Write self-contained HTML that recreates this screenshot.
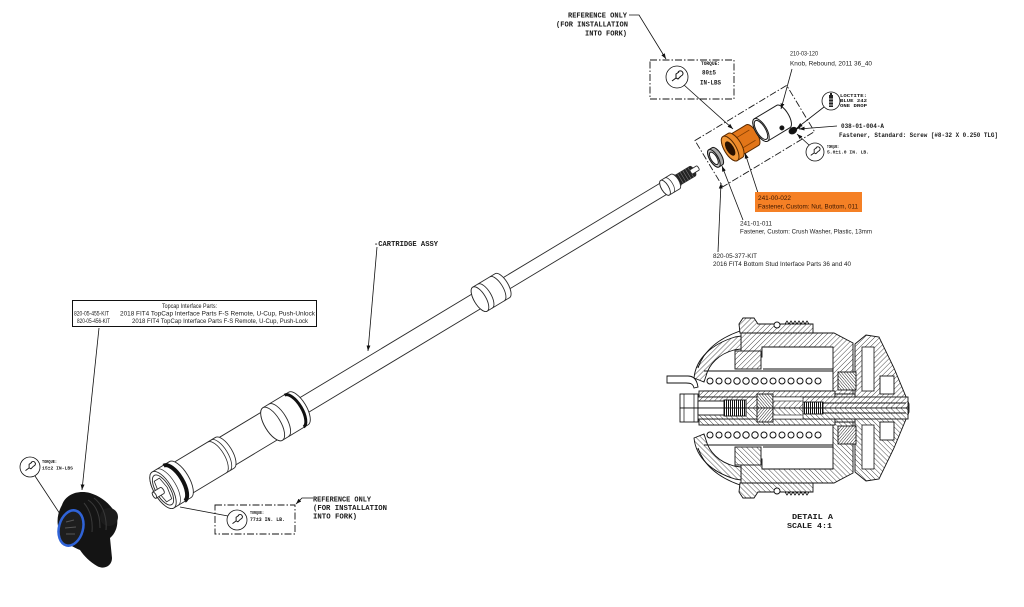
<!DOCTYPE html>
<html><head><meta charset="utf-8"><style>
html,body{margin:0;padding:0;background:#fff;}
svg{display:block;}
.cad{font-family:"Liberation Mono",monospace;font-weight:bold;fill:#1a1a1a;}
.lbl{font-family:"Liberation Sans",sans-serif;fill:#1a1a1a;}
</style></head><body>
<svg width="1024" height="607" viewBox="0 0 1024 607" xmlns="http://www.w3.org/2000/svg">
<defs>
<pattern id="h" width="3.6" height="3.6" patternUnits="userSpaceOnUse" patternTransform="rotate(45)"><rect width="3.6" height="3.6" fill="#fff"/><line x1="0" y1="0" x2="0" y2="3.6" stroke="#222" stroke-width="0.8"/></pattern>
<pattern id="h2" width="2.2" height="2.2" patternUnits="userSpaceOnUse" patternTransform="rotate(-40)"><rect width="2.2" height="2.2" fill="#fff"/><line x1="0" y1="0" x2="0" y2="2.2" stroke="#111" stroke-width="0.9"/></pattern>
<pattern id="v" width="2" height="4" patternUnits="userSpaceOnUse"><rect width="2" height="4" fill="#fff"/><line x1="0.5" y1="0" x2="0.5" y2="4" stroke="#111" stroke-width="1"/></pattern>
<marker id="a" viewBox="0 0 10 10" refX="10" refY="5" markerWidth="7" markerHeight="7" orient="auto"><path d="M0,1.5 L10,5 L0,8.5 Z" fill="#111"/></marker>
<g id="wr"><path d="M-5,4 L-1,1 L1,2 L4,-1 M-1,1 L-1,-3 L2,-5 M4,-1 A2.6,2.6 0 1 0 1,-4.5" fill="none" stroke="#111" stroke-width="1"/></g>
<g id="dh" stroke="#111" stroke-width="0.9">
 <path d="M739,324 L743,318 L754,318 L758,324 L813,324 L813,333 L740,333 Z" fill="url(#h)"/>
 <path d="M785,324 l2,-3 l2,3 l2,-3 l2,3 l2,-3 l2,3 l2,-3 l2,3 l2,-3 l2,3 l2,-3 l2,3" fill="none" stroke-width="0.8"/>
 <circle cx="777" cy="325" r="3" fill="#fff"/>
 <path d="M741,333 L834,333 L853,343 L853,394 L833,394 L833,347 L762,347 L762,357 L741,357 Z" fill="url(#h)"/>
 <path d="M855,344 L866,335 L879,337 L894,368 L909,404 L909,408 L855,408 Z" fill="url(#h)"/>
 <rect x="862" y="347" width="12" height="44" fill="#fff" stroke-width="0.8"/>
 <rect x="880" y="376" width="14" height="18" fill="#fff"/>
 <rect x="838" y="372" width="18" height="18" fill="url(#h2)"/>
 <path d="M694,378 C696,358 712,344 735,337 L741,336 L741,349 L734,350 C719,354 709,364 706,376 L704,382 Z" fill="url(#h)"/>
 <path d="M698,368 C704,350 720,338 740,331" fill="none"/>
 <rect x="735" y="351" width="26" height="18" fill="url(#h)"/>
 <path d="M704,371 H833 M704,391 H833 M763,369 H833" fill="none"/>
 <g fill="#fff" stroke-width="1">
  <circle cx="710" cy="381" r="3"/><circle cx="719" cy="381" r="3"/><circle cx="728" cy="381" r="3"/>
  <circle cx="737" cy="381" r="3.2"/><circle cx="746" cy="381" r="3.2"/><circle cx="755" cy="381" r="3.2"/>
  <circle cx="764" cy="381" r="3"/><circle cx="773" cy="381" r="3"/><circle cx="782" cy="381" r="3"/>
  <circle cx="791" cy="381" r="3"/><circle cx="800" cy="381" r="3"/><circle cx="809" cy="381" r="3"/><circle cx="818" cy="381" r="3"/>
 </g>
 <rect x="699" y="391" width="136" height="6" fill="url(#h)"/>
 <rect x="835" y="394" width="20" height="8" fill="url(#h)"/>
 <rect x="690" y="397" width="70" height="11" fill="url(#h)"/>
 <rect x="680" y="394" width="18" height="14" fill="#fff"/>
 <path d="M684,394 V408 M694,394 V408" stroke-width="0.7"/>
 <rect x="698" y="401" width="48" height="7" fill="#fff"/>
 <rect x="724" y="400" width="22" height="8" fill="url(#v)"/>
 <rect x="757" y="394" width="16" height="14" fill="url(#h2)"/>
 <rect x="773" y="397" width="135" height="11" fill="url(#h)"/>
 <rect x="773" y="397" width="30" height="4" fill="#fff" stroke-width="0.6"/>
 <rect x="803" y="402" width="20" height="6" fill="url(#v)"/>
 <path d="M823,403 H906" fill="none"/>
</g>
</defs>

<!-- ===== CARTRIDGE TUBE ===== -->
<g transform="translate(163,490) rotate(-31.05)" stroke="#2a2a2a" stroke-width="0.9" fill="#fff">
 <path d="M394,-6.5H600A2.7,6.5 0 0 1 600,6.5H394A2.7,6.5 0 0 1 394,-6.5Z"/>
 <path d="M598,-5.5H618A2.3,5.5 0 0 1 618,5.5H598A2.3,5.5 0 0 1 598,-5.5Z" fill="#222"/>
 <path d="M601,-5.5V5.5M604,-5.5V5.5M607,-5.5V5.5M610,-5.5V5.5M613,-5.5V5.5M616,-5.5V5.5" stroke="#777" stroke-width="0.6"/>
 <path d="M617,-2.5H624A1,2.5 0 0 1 624,2.5H617A1,2.5 0 0 1 617,-2.5Z"/>
 <path d="M586,-8.5H598A3.6,8.5 0 0 1 598,8.5H586A3.6,8.5 0 0 1 586,-8.5Z"/>
 <ellipse cx="586" cy="0" rx="3.6" ry="8.5"/>
 <path d="M591,-8.5A3.6,8.5 0 0 1 591,8.5" fill="none" stroke-width="0.7"/>
 <path d="M155,-8.5H375A3.6,8.5 0 0 1 375,8.5H155A3.6,8.5 0 0 1 155,-8.5Z"/>
 <path d="M370,-14H396A5.9,14 0 0 1 396,14H370A5.9,14 0 0 1 370,-14Z"/>
 <ellipse cx="370" cy="0" rx="5.9" ry="14"/>
 <path d="M376,-14A5.9,14 0 0 1 376,14M390,-14A5.9,14 0 0 1 390,14" fill="none"/>
 <path d="M70,-16H135A6.7,16 0 0 1 135,16H70A6.7,16 0 0 1 70,-16Z"/>
 <path d="M128,-19H158A8,19 0 0 1 158,19H128A8,19 0 0 1 128,-19Z"/>
 <ellipse cx="128" cy="0" rx="8" ry="19"/>
 <path d="M135,-19A8,19 0 0 1 135,19" fill="none"/>
 <path d="M153,-18.5A8,18.5 0 0 1 153,18.5" fill="none" stroke="#111" stroke-width="3"/>
 <path d="M18,-18H72A7.6,18 0 0 1 72,18H18A7.6,18 0 0 1 18,-18Z"/>
 <path d="M63,-18A7.6,18 0 0 1 63,18M67,-18A7.6,18 0 0 1 67,18" fill="none" stroke-width="0.8"/>
 <path d="M0,-21H20A8.8,21 0 0 1 20,21H0A8.8,21 0 0 1 0,-21Z"/>
 <path d="M13,-20.5A8.8,20.5 0 0 1 13,20.5" fill="none" stroke="#111" stroke-width="4"/>
 <path d="M5,-21A8.8,21 0 0 1 5,21" fill="none" stroke-width="0.7"/>
 <ellipse cx="0" cy="0" rx="8.8" ry="21"/>
 <ellipse cx="0" cy="0" rx="7" ry="17" fill="none"/>
 <path d="M-3,-12 L3,-12 L5,0 L3,12 L-3,12 L-5,0 Z" fill="none" stroke-width="0.8"/>
 <path d="M-10,-3.5H-1A1.5,3.5 0 0 1 -1,3.5H-10A1.5,3.5 0 0 1 -10,-3.5Z"/>
 <ellipse cx="-10" cy="0" rx="1.5" ry="3.5"/>
</g>

<!-- ===== TOP PARTS (exploded) ===== -->
<g transform="translate(163,490) rotate(-31.05)" stroke="#1a1a1a" stroke-width="1" fill="#fff">
 <rect x="636" y="-25" width="107" height="54" fill="none" stroke-dasharray="7,2,1.5,2" stroke-width="0.9"/>
 <path d="M643,-10H647A4.2,10 0 0 1 647,10H643A4.2,10 0 0 1 643,-10Z" fill="#aaa"/>
 <ellipse cx="643" cy="0" rx="4.2" ry="10" fill="#c8c8c8"/>
 <ellipse cx="643" cy="0" rx="3" ry="7"/>
 <path d="M667,-12H688A5,12 0 0 1 688,12H667A5,12 0 0 1 667,-12Z" fill="#e27518" stroke="#5a2a00"/>
 <path d="M668,-6H688M668,6H688" stroke="#8a4000" stroke-width="0.8"/>
 <path d="M662,-14H668A5.9,14 0 0 1 668,14H662A5.9,14 0 0 1 662,-14Z" fill="#ee8a28" stroke="#5a2a00"/>
 <ellipse cx="662" cy="0" rx="5.9" ry="14" fill="#f39a3a" stroke="#5a2a00"/>
 <ellipse cx="662" cy="0" rx="3.2" ry="7.5" fill="#2a1200" stroke="#2a1200"/>
 <path d="M698,-13H724A5.5,13 0 0 1 724,13H698A5.5,13 0 0 1 698,-13Z"/>
 <ellipse cx="698" cy="0" rx="5.5" ry="13"/>
 <ellipse cx="698" cy="0" rx="4.4" ry="10.8"/>
 <circle cx="717" cy="9" r="2" fill="#111"/>
 <ellipse cx="725" cy="17" rx="4" ry="3" fill="#111"/>
 <path d="M728,17 L733,18" stroke="#111" stroke-width="1.5"/>
</g>

<!-- ===== DETAIL A ===== -->
<use href="#dh"/>
<use href="#dh" transform="translate(0,816) scale(1,-1)"/>
<path d="M667,376 L688,376 C694,376 697,380 698,387 L694,388 C693,384 691,383 686,383 L667,383 Z" fill="#fff" stroke="#111" stroke-width="0.9"/>
<text class="cad" x="792" y="519" font-size="7.5" textLength="41" lengthAdjust="spacingAndGlyphs">DETAIL A</text>
<text class="cad" x="787" y="528" font-size="7.5" textLength="45" lengthAdjust="spacingAndGlyphs">SCALE 4:1</text>

<!-- ===== CALLOUTS ===== -->
<g fill="none" stroke="#111" stroke-width="0.8">
 <polyline points="629,15 639,15 666,59" marker-end="url(#a)"/>
 <rect x="650" y="60" width="84" height="39" stroke-dasharray="7,2,1.5,2" stroke-width="0.9"/>
 <circle cx="677" cy="77" r="11" fill="#fff"/>
 <line x1="684" y1="85" x2="733" y2="129" marker-end="url(#a)"/>
 <line x1="792" y1="69" x2="781" y2="109" marker-end="url(#a)"/>
 <circle cx="831" cy="101" r="9" fill="#fff"/>
 <line x1="824" y1="107" x2="797" y2="128" marker-end="url(#a)"/>
 <line x1="837" y1="126" x2="799" y2="129" marker-end="url(#a)"/>
 <circle cx="815" cy="152" r="9" fill="#fff"/>
 <line x1="809" y1="145" x2="797" y2="134" marker-end="url(#a)"/>
 <line x1="758" y1="193" x2="745" y2="153" marker-end="url(#a)"/>
 <line x1="743" y1="220" x2="722" y2="166" marker-end="url(#a)"/>
 <line x1="718" y1="252" x2="721" y2="183" marker-end="url(#a)"/>
 <line x1="377" y1="247" x2="368" y2="351" marker-end="url(#a)"/>
 <line x1="99" y1="328" x2="82" y2="490" marker-end="url(#a)"/>
 <circle cx="30" cy="467" r="10" fill="#fff"/>
 <line x1="35" y1="476" x2="62" y2="517"/>
 <rect x="215" y="505" width="80" height="29" stroke-dasharray="7,2,1.5,2" stroke-width="0.9"/>
 <circle cx="237" cy="520" r="10" fill="#fff"/>
 <line x1="228" y1="516" x2="180" y2="507"/>
 <polyline points="313,498 302,498 296,504" marker-end="url(#a)"/>
</g>
<use href="#wr" transform="translate(677,77)"/>
<use href="#wr" transform="translate(815,152) scale(0.85)"/>
<use href="#wr" transform="translate(30,467) scale(0.9)"/>
<use href="#wr" transform="translate(237,520) scale(0.9)"/>
<g transform="translate(831,101)"><rect x="-2" y="-6" width="4" height="12" fill="#222"/><path d="M-2,-2H2M-2,1H2M-2,4H2" stroke="#fff" stroke-width="0.7"/><rect x="-1" y="-8" width="2" height="2" fill="#222"/></g>

<text class="cad" x="568" y="17.5" font-size="7.5" textLength="59" lengthAdjust="spacingAndGlyphs">REFERENCE ONLY</text>
<text class="cad" x="556" y="26.5" font-size="7.5" textLength="72" lengthAdjust="spacingAndGlyphs">(FOR INSTALLATION</text>
<text class="cad" x="585" y="35.5" font-size="7.5" textLength="42" lengthAdjust="spacingAndGlyphs">INTO FORK)</text>
<text class="cad" x="701" y="65" font-size="5" textLength="19" lengthAdjust="spacingAndGlyphs">TORQUE:</text>
<text class="cad" x="702" y="74.5" font-size="6" textLength="14" lengthAdjust="spacingAndGlyphs">80±5</text>
<text class="cad" x="700" y="84.5" font-size="6" textLength="21" lengthAdjust="spacingAndGlyphs">IN-LBS</text>

<text class="lbl" x="790" y="55.5" font-size="6.5" textLength="28" lengthAdjust="spacingAndGlyphs">210-03-120</text>
<text class="lbl" x="790" y="65.5" font-size="6.5" textLength="82" lengthAdjust="spacingAndGlyphs">Knob, Rebound, 2011 36_40</text>
<text class="cad" x="840" y="97" font-size="4.8" textLength="27" lengthAdjust="spacingAndGlyphs">LOCTITE:</text>
<text class="cad" x="840" y="102" font-size="4.8" textLength="27" lengthAdjust="spacingAndGlyphs">BLUE 242</text>
<text class="cad" x="840" y="107" font-size="4.8" textLength="27" lengthAdjust="spacingAndGlyphs">ONE DROP</text>
<text class="cad" x="841" y="128" font-size="6" textLength="43" lengthAdjust="spacingAndGlyphs">038-01-004-A</text>
<text class="cad" x="839" y="137" font-size="6" textLength="159" lengthAdjust="spacingAndGlyphs">Fastener, Standard: Screw [#8-32 X 0.250 TLG]</text>
<text class="cad" x="827" y="148" font-size="4.5" textLength="12" lengthAdjust="spacingAndGlyphs">TORQUE:</text>
<text class="cad" x="827" y="153.5" font-size="4.8" textLength="42" lengthAdjust="spacingAndGlyphs">5.0±1.0 IN. LB.</text>

<rect x="755" y="192" width="107" height="20" fill="#f58025"/>
<text class="lbl" x="758" y="200" font-size="6.5" textLength="33" lengthAdjust="spacingAndGlyphs" style="fill:#3a1600">241-00-022</text>
<text class="lbl" x="758" y="208.5" font-size="6.5" textLength="100" lengthAdjust="spacingAndGlyphs" style="fill:#3a1600">Fastener, Custom: Nut, Bottom, 011</text>
<text class="lbl" x="740" y="225.5" font-size="6.5" textLength="32" lengthAdjust="spacingAndGlyphs">241-01-011</text>
<text class="lbl" x="740" y="233.5" font-size="6.5" textLength="132" lengthAdjust="spacingAndGlyphs">Fastener, Custom: Crush Washer, Plastic, 13mm</text>
<text class="lbl" x="713" y="258" font-size="6.5" textLength="44" lengthAdjust="spacingAndGlyphs">820-05-377-KIT</text>
<text class="lbl" x="713" y="266" font-size="6.5" textLength="138" lengthAdjust="spacingAndGlyphs">2016 FIT4 Bottom Stud Interface Parts 36 and 40</text>

<text class="cad" x="374" y="246" font-size="7.5" textLength="64" lengthAdjust="spacingAndGlyphs">-CARTRIDGE ASSY</text>

<!-- topcap box -->
<rect x="72.5" y="300.5" width="244" height="26" fill="#fff" stroke="#111" stroke-width="1"/>
<text class="lbl" x="162" y="308" font-size="6.2" textLength="55" lengthAdjust="spacingAndGlyphs">Topcap Interface Parts:</text>
<text class="lbl" x="74" y="315.5" font-size="6.2" textLength="35" lengthAdjust="spacingAndGlyphs">820-05-455-KIT</text>
<text class="lbl" x="120" y="315.5" font-size="6.2" textLength="195" lengthAdjust="spacingAndGlyphs">2018 FIT4 TopCap Interface Parts F-S Remote, U-Cup, Push-Unlock</text>
<text class="lbl" x="77" y="323" font-size="6.2" textLength="33" lengthAdjust="spacingAndGlyphs">820-05-456-KIT</text>
<text class="lbl" x="132" y="323" font-size="6.2" textLength="176" lengthAdjust="spacingAndGlyphs">2018 FIT4 TopCap Interface Parts F-S Remote, U-Cup, Push-Lock</text>

<!-- bottom left torque -->
<text class="cad" x="42" y="463" font-size="4.6" textLength="15" lengthAdjust="spacingAndGlyphs">TORQUE:</text>
<text class="cad" x="42" y="469.5" font-size="4.8" textLength="31" lengthAdjust="spacingAndGlyphs">15±2 IN-LBS</text>

<!-- topcap part -->
<path d="M62,505 C66,494 78,490 90,493 C100,496 110,503 116,514 C119,522 117,532 110,538 L112,558 C112,566 104,570 97,566 C90,562 84,556 80,550 C70,546 62,540 59,530 C56,521 58,512 62,505 Z" fill="#141414"/>
<circle cx="109" cy="517" r="9" fill="#1c1c1c"/>
<path d="M88,500 C96,505 100,515 100,528 M94,498 C103,505 107,517 106,530 M84,503 C90,510 93,520 92,532" fill="none" stroke="#3a3a3a" stroke-width="1"/>
<ellipse cx="71" cy="528" rx="12" ry="18" transform="rotate(15 71 528)" fill="#1e1e1e" stroke="#2f63d8" stroke-width="2.5"/>
<path d="M66,522 L74,520 M65,528 L76,527 M66,534 L75,534" stroke="#555" stroke-width="1"/>

<!-- bottom box texts -->
<text class="cad" x="250" y="514" font-size="4.6" textLength="14" lengthAdjust="spacingAndGlyphs">TORQUE:</text>
<text class="cad" x="250" y="521" font-size="5" textLength="35" lengthAdjust="spacingAndGlyphs">77±3 IN. LB.</text>
<text class="cad" x="313" y="501.5" font-size="7.5" textLength="58" lengthAdjust="spacingAndGlyphs">REFERENCE ONLY</text>
<text class="cad" x="313" y="510" font-size="7.5" textLength="74" lengthAdjust="spacingAndGlyphs">(FOR INSTALLATION</text>
<text class="cad" x="313" y="518.5" font-size="7.5" textLength="44" lengthAdjust="spacingAndGlyphs">INTO FORK)</text>
</svg>
</body></html>
